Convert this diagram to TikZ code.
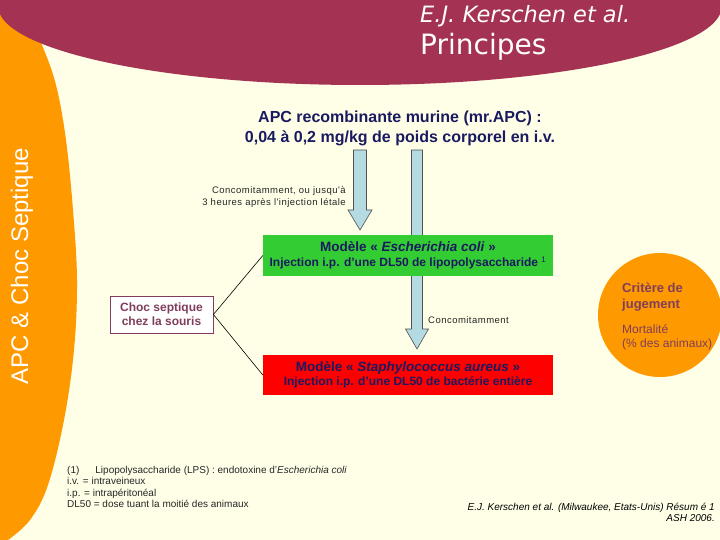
\documentclass[tikz,border=0pt]{standalone}
\usepackage{fontspec}
\setmainfont{Liberation Sans}
\newfontfamily\headfont{DejaVu Sans}
\newfontfamily\spacedfont[LetterSpace=5]{Liberation Sans}
\usetikzlibrary{positioning}
\definecolor{cream}{RGB}{255,255,232}
\definecolor{bandorange}{RGB}{255,153,0}
\definecolor{headmaroon}{RGB}{164,50,82}
\definecolor{navytext}{RGB}{26,26,96}
\definecolor{maroontext}{RGB}{128,62,92}
\definecolor{boxgreen}{RGB}{51,204,51}
\definecolor{boxred}{RGB}{255,0,0}
\definecolor{arrowblue}{RGB}{180,218,226}
\definecolor{arrowedge}{RGB}{80,80,80}
\tikzset{
  % coloured boxes of the two models
  modelbox/.style={minimum width=290pt, minimum height=41pt, inner sep=0pt,
    align=center, text=navytext, font=\bfseries},
  smalltext/.style={font=\spacedfont\fontsize{9.5}{12}\selectfont, text=black!85, inner sep=0pt},
  arrowblock/.style={fill=arrowblue, draw=arrowedge, line width=0.6pt},
}
% block arrow: x, top, tip, half shaft, half head
\newcommand{\blockarrow}[5]{%
  \filldraw[arrowblock] (#1-#4,#2) -- (#1+#4,#2) -- (#1+#4,#3-20) -- (#1+#5,#3-20)
    -- (#1,#3) -- (#1-#5,#3-20) -- (#1-#4,#3-20) -- cycle;}

\begin{document}
\begin{tikzpicture}[x=1pt,y=-1pt]
\useasboundingbox (0,0) rectangle (720,540);
\clip (0,0) rectangle (720,540);
\fill[cream] (0,0) rectangle (720,540);

% side band and header
\fill[bandorange] (0,0) -- plot[smooth, tension=0.6] coordinates {(22,0) (42,45) (56,85)
  (66,140) (73,210) (77,280) (74,350) (64,420) (48,485) (30,520) (8,540)} -- (0,540) -- cycle;
\fill[headmaroon] (360,6) ellipse [x radius=362, y radius=79];

\node[rotate=90, anchor=base, text=white, font=\fontsize{24}{24}\selectfont] (sidetitle)
  at (28,266) {APC \& Choc Septique};
\node[anchor=base west, inner sep=0pt, text=white, font=\headfont\itshape\fontsize{22.5}{23}\selectfont]
  (author) at (420,23) {E.J. Kerschen et al.};
\node[anchor=base west, inner sep=0pt, text=white, font=\headfont\fontsize{28}{28}\selectfont]
  (heading) at (420,55) {Principes};

% treatment
\node[align=center, inner sep=0pt, text=navytext, font=\bfseries\fontsize{16}{20}\selectfont]
  (apc) at (400,128) {APC recombinante murine (mr.APC) :\\0,04 à 0,2 mg/kg de poids corporel en i.v.};
\node[smalltext, anchor=east, align=right] (lethal) at (346,196.5)
  {Concomitamment, ou jusqu'à\\3 heures après l'injection létale};

\blockarrow{360}{150}{230}{6.5}{12}
\blockarrow{417}{150}{349}{5.5}{11.5}

% models
\node[modelbox, fill=boxgreen] (ecoli) at (408,255.5)
  {{\fontsize{13.5}{16}\selectfont Modèle « \textit{Escherichia coli} »}\\[3pt]
   {\fontsize{12}{14}\selectfont Injection i.p. d’une DL50 de lipopolysaccharide \textsuperscript{\mdseries 1}}};
\node[modelbox, fill=boxred, minimum height=40pt] (staph) at (408,375)
  {{\fontsize{13.5}{16}\selectfont Modèle « \textit{Staphylococcus aureus} »}\\[2pt]
   {\fontsize{12}{14}\selectfont Injection i.p. d’une DL50 de bactérie entière}};
\node[smalltext, anchor=west] (concom) at (428,320) {Concomitamment};

\node[draw=maroontext, line width=0.8pt, fill=white, minimum width=103pt, minimum height=37pt,
  inner sep=0pt, align=center, text=maroontext, font=\bfseries\fontsize{12}{14}\selectfont]
  (choc) at (161.5,314.5) {Choc septique\\chez la souris};
\draw[line width=0.6pt] (choc.east) -- (ecoli.west);
\draw[line width=0.6pt] (choc.east) -- (staph.west);

% outcome
\node[circle, fill=bandorange, minimum size=124pt, inner sep=0pt] (judge) at (660,315) {};
\node[anchor=north west, align=left, inner sep=0pt, text=maroontext,
  font=\bfseries\fontsize{13}{15.5}\selectfont] (critere) at (622,283) {Critère de\\jugement};
\node[below right=13pt and 0pt of critere.south west, align=left, inner sep=0pt, text=maroontext,
  font=\fontsize{12}{14}\selectfont] (mortalite) {Mortalité\\(\% des animaux)};

% notes
\node[anchor=north west, align=left, inner sep=0pt, text=black!85, font=\fontsize{10}{11.3}\selectfont]
  (notes) at (67,466) {(1)\hspace{16pt}Lipopolysaccharide (LPS) : endotoxine d’\textit{Escherichia coli}\\
  i.v. = intraveineux\\i.p. = intrapéritonéal\\DL50 = dose tuant la moitié des animaux};
\node[anchor=south east, align=right, inner sep=0pt, font=\itshape\fontsize{10}{11.5}\selectfont]
  (ref) at (715,522) {E.J. Kerschen et al. (Milwaukee, Etats-Unis) Résum é 1\\ASH 2006.};
\end{tikzpicture}
\end{document}
